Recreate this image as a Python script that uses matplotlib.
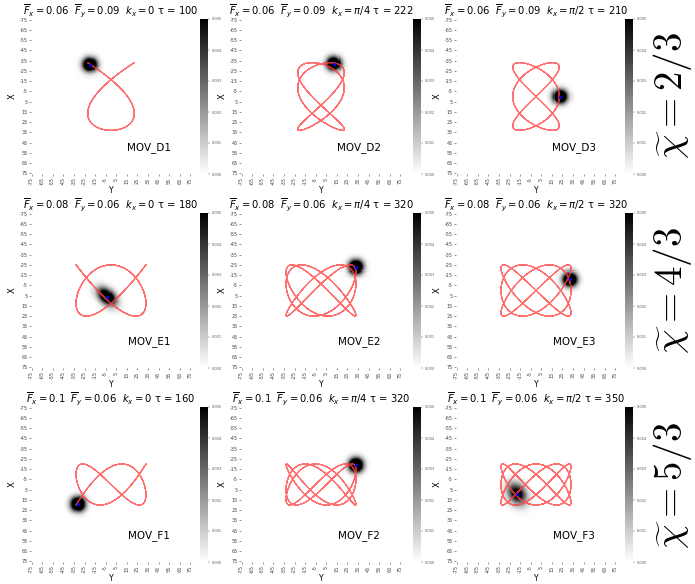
import numpy as np
import matplotlib.pyplot as plt

W, H = 695, 584

# panel parameters, row by row (D, E, F) and column by column (k_x = 0, pi/4, pi/2)
names = ['MOV_D1', 'MOV_D2', 'MOV_D3',
         'MOV_E1', 'MOV_E2', 'MOV_E3',
         'MOV_F1', 'MOV_F2', 'MOV_F3']
fx = [0.06, 0.06, 0.06, 0.08, 0.08, 0.08, 0.1, 0.1, 0.1]
fy = [0.09, 0.09, 0.09, 0.06, 0.06, 0.06, 0.06, 0.06, 0.06]
kx = [0, np.pi / 4, np.pi / 2] * 3
kx_txt = ['0', r'\pi/4', r'\pi/2'] * 3
tau = [100, 222, 210, 180, 320, 320, 160, 320, 350]

# trajectory half-extents (grid units)
amp_x = [33, 33, 33, 25, 25, 25, 20, 20, 20]
amp_y = [22, 22, 22, 33, 33, 33, 33, 33, 33]

# density blob: centre (Y, X), spread and peak
blob_y = [-20, 12, 23, -4, 33, 32, -31, 33, -18]
blob_x = [-31, -32, 0, 6, -23, -11, 19, -19, 9]
blob_sa = [4.5, 4.5, 4.5, 7.0, 4.5, 4.5, 4.5, 4.5, 7.5]
blob_sb = [4.5, 4.5, 4.5, 4.5, 4.5, 4.5, 4.5, 4.5, 5.5]
blob_ang = [0, 0, 0, 45, 0, 0, 0, 0, 60]
blob_peak = [0.01, 0.01, 0.01, 0.008, 0.01, 0.01, 0.01, 0.01, 0.0058]

chi_txt = ['2/3', '4/3', '5/3']

ticks = np.arange(-75, 76, 10)
grid = np.arange(-75, 76)
GY, GX = np.meshgrid(grid, grid)

col_left = [31, 241, 456]
cbar_left = [200, 413, 625]
row_top = [19, 213, 407]
pw, ph = 160, 155

fig = plt.figure(figsize=(W / 100, H / 100), dpi=100)

for i in range(9):
    r, c = divmod(i, 3)
    ax = fig.add_axes([col_left[c] / W, 1 - (row_top[r] + ph) / H, pw / W, ph / H])
    cax = fig.add_axes([cbar_left[c] / W, 1 - (row_top[r] + ph) / H, 8 / W, ph / H])

    # rotated gaussian density
    a = np.deg2rad(blob_ang[i])
    dy = GY - blob_y[i]
    dx = GX - blob_x[i]
    u = dy * np.cos(a) + dx * np.sin(a)
    v = -dy * np.sin(a) + dx * np.cos(a)
    dens = blob_peak[i] * np.exp(-0.5 * ((u / blob_sa[i]) ** 2 + (v / blob_sb[i]) ** 2))

    im = ax.imshow(dens, cmap='gray_r', vmin=0, vmax=0.005, aspect='auto',
                   extent=(-75.5, 75.5, 75.5, -75.5), interpolation='nearest')

    t = np.linspace(0, tau[i], 6000)
    X = -amp_x[i] * np.cos(2 * np.pi * fx[i] * t + kx[i])
    Y = amp_y[i] * np.cos(2 * np.pi * fy[i] * t)
    ax.plot(Y, X, color='#ff4040', lw=0.65, alpha=0.75)
    ax.plot(blob_y[i], blob_x[i], 'o', color='blue', ms=1.2)

    ax.set_xlim(-75.5, 75.5)
    ax.set_ylim(75.5, -75.5)
    ax.set_xticks(ticks)
    ax.set_yticks(ticks)
    ax.set_xticklabels(ticks, rotation=90)
    ax.set_yticklabels(ticks)
    ax.tick_params(labelsize=3.5, length=1.5, width=0.4, pad=1, colors='#444444')
    for s in ax.spines.values():
        s.set_visible(False)
    ax.set_xlabel('Y', fontsize=5.5, labelpad=0.5)
    ax.set_ylabel('X', fontsize=6, labelpad=2)

    ax.set_title(r'$\overline{F}_x = %s$  $\overline{F}_y = %s$  $k_x = %s$ τ = %d'
                 % (fx[i], fy[i], kx_txt[i], tau[i]), fontsize=7.2, pad=2)
    ax.text(36, 50, names[i], fontsize=7.5, ha='center', va='center')

    cb = fig.colorbar(im, cax=cax, ticks=[0, 0.001, 0.002, 0.003, 0.004, 0.005], format='%.3f')
    cb.outline.set_visible(False)
    cax.tick_params(labelsize=2.5, length=1.5, width=0.3, pad=1, colors='#555555')

for r in range(3):
    fig.text(673 / W, 1 - (96 + 195 * r) / H, r'$\widetilde{\chi} = %s$' % chi_txt[r],
             rotation=90, fontsize=28, ha='center', va='center', math_fontfamily='cm')

fig.savefig('out.png', dpi=100)
